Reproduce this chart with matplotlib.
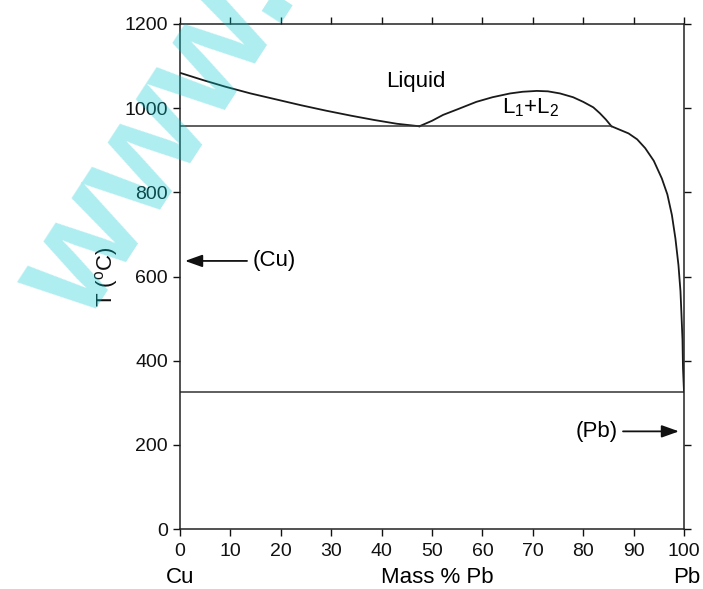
import numpy as np
import matplotlib
matplotlib.use("Agg")
from matplotlib import pyplot as plt

plt.rcParams['font.family'] = ['Liberation Sans', 'DejaVu Sans']
plt.rcParams['mathtext.fontset'] = 'custom'
plt.rcParams['mathtext.rm'] = 'Liberation Sans'
plt.rcParams['mathtext.it'] = 'Liberation Sans:italic'

# liquidus on the Cu side, down to the monotectic
liq_cu_x = [0, 4.5, 9, 14, 19, 24, 29, 34, 38.5, 43, 47.5]
liq_cu_t = [1084, 1067, 1051, 1035, 1021, 1007, 994, 982, 972, 963, 957]

# miscibility gap L1 + L2
gap_x = [47.5, 50, 52.2, 55, 58.8, 62, 65.5, 68, 70.8, 73, 75.4, 78, 80, 82, 83.3, 84.5, 85.6]
gap_t = [957, 970, 984, 997, 1015, 1026, 1035, 1039, 1041, 1040, 1035, 1026, 1015, 1002, 988, 973, 957]

# liquidus on the Pb side, down to the eutectic
liq_pb_x = [85.6, 87, 89, 90.7, 92.3, 94, 95.6, 96.7, 97.6, 98.3, 98.9, 99.3, 99.5, 99.7, 99.8, 100]
liq_pb_t = [957, 950, 940, 926, 905, 875, 833, 795, 746, 690, 627, 565, 509, 450, 383, 326]

t_monotectic = 957
x_monotectic_end = 85.6
t_eutectic = 326

x_ticks = list(range(0, 101, 10))
y_ticks = list(range(0, 1201, 200))

cu_arrow_t = 637
pb_arrow_t = 232

fig = plt.figure(figsize=(7.03, 5.89), dpi=100)
ax = fig.add_axes([180 / 703, 1 - 529 / 589, 504 / 703, 505 / 589])

lc = '#1a1a1a'
ax.plot(liq_cu_x, liq_cu_t, color=lc, lw=1.3)
ax.plot(gap_x, gap_t, color=lc, lw=1.3)
ax.plot(liq_pb_x, liq_pb_t, color=lc, lw=1.3)
ax.plot([0, x_monotectic_end], [t_monotectic, t_monotectic], color='#333333', lw=1.1)
ax.plot([0, 100], [t_eutectic, t_eutectic], color='#333333', lw=1.1)

ax.set_xlim(0, 100)
ax.set_ylim(0, 1200)
ax.set_xticks(x_ticks)
ax.set_yticks(y_ticks)
ax.tick_params(direction='out', top=True, right=True, length=4.7, width=1.0,
               labelsize=14, colors='#111111')
ax.tick_params(axis='x', pad=5.4)
ax.tick_params(axis='y', pad=4)
for s in ax.spines.values():
    s.set_linewidth(1.1)
    s.set_color('#222222')

ax.set_ylabel(r'T ($^{\rm o}$C)', fontsize=16, color='#111111')
ax.yaxis.set_label_coords(-0.12, 0.5)

# composition row under the tick labels
row = ax.get_xaxis_transform()
ax.text(0, -0.097, 'Cu', transform=row, ha='center', va='center', fontsize=16, clip_on=False)
ax.text(51, -0.097, 'Mass % Pb', transform=row, ha='center', va='center', fontsize=16, clip_on=False)
ax.text(100.5, -0.097, 'Pb', transform=row, ha='center', va='center', fontsize=16, clip_on=False)

ax.text(46.7, 1063, 'Liquid', ha='center', va='center', fontsize=16)
ax.text(69.6, 1000, r'L$_1$+L$_2$', ha='center', va='center', fontsize=16)

arrow = dict(arrowstyle='-|>,head_length=0.7,head_width=0.25', color='#111111',
             lw=1.3, mutation_scale=15, shrinkA=0, shrinkB=0)
ax.annotate('', xy=(1, cu_arrow_t), xytext=(13.3, cu_arrow_t), arrowprops=arrow)
ax.text(14.5, cu_arrow_t, '(Cu)', ha='left', va='center', fontsize=16)
ax.annotate('', xy=(99, pb_arrow_t), xytext=(87.9, pb_arrow_t), arrowprops=arrow)
ax.text(86.9, pb_arrow_t, '(Pb)', ha='right', va='center', fontsize=16)

# site watermark
fig.text(160 / 703, 1 - 140 / 589, 'www.', fontsize=110, fontweight='bold',
         color='#00c8d2', alpha=0.32, rotation=57, rotation_mode='anchor',
         ha='center', va='center', zorder=10)

fig.savefig('out.png', dpi=100)
